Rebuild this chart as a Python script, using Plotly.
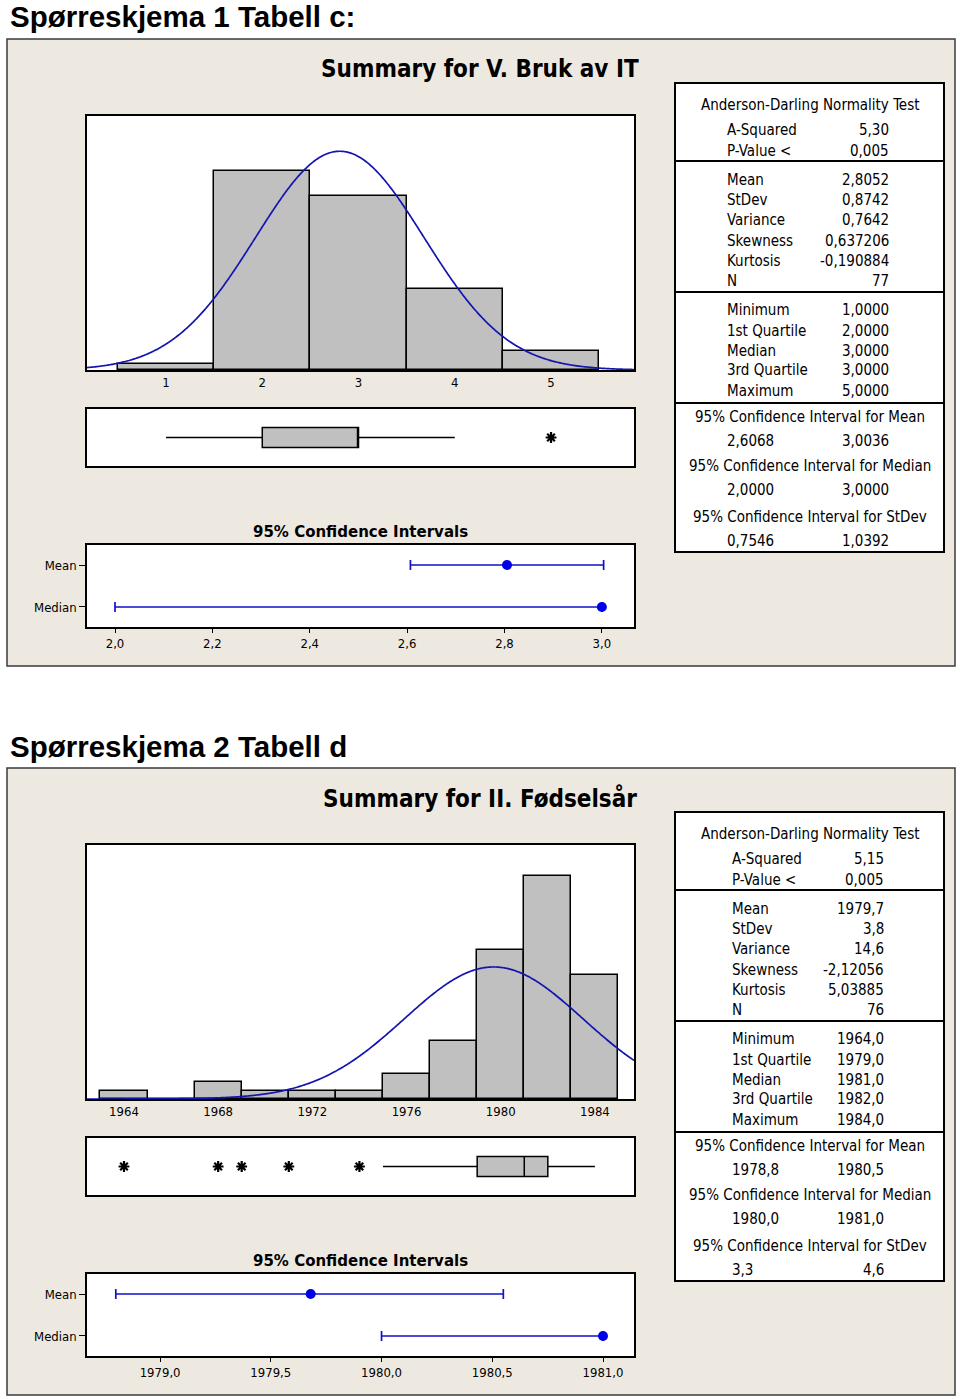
import numpy as np
import plotly.graph_objects as go

W, H = 960, 1399

# ---------------- shared table labels ----------------
ad_title = "Anderson-Darling Normality Test"
ad_labels = ["A-Squared", "P-Value <"]
moment_labels = ["Mean", "StDev", "Variance", "Skewness", "Kurtosis", "N"]
quart_labels = ["Minimum", "1st Quartile", "Median", "3rd Quartile", "Maximum"]
ci_titles = ["95% Confidence Interval for Mean",
             "95% Confidence Interval for Median",
             "95% Confidence Interval for StDev"]
ci_plot_title = "95% Confidence Intervals"
ci_row_labels = ["Mean", "Median"]

# ---------------- chart 1 data ----------------
c1_heading = "Spørreskjema 1 Tabell c:"
c1_summary = "Summary for V. Bruk av IT"
c1_bin_mid = [1, 2, 3, 4, 5]
c1_counts = [1, 32, 28, 13, 3]
c1_bin_width = 1
c1_mean = 2.8052
c1_sd = 0.8742
c1_n = 77
c1_box = [1, 2, 3, 3, 4]          # lower whisker, Q1, median, Q3, upper whisker
c1_outliers = [5]
c1_ci_mean = [2.6068, 2.8052, 3.0036]   # low, estimate, high
c1_ci_median = [2.0, 3.0, 3.0]
c1_hist_ticks = [1, 2, 3, 4, 5]
c1_hist_labels = ["1", "2", "3", "4", "5"]
c1_ci_ticks = [2.0, 2.2, 2.4, 2.6, 2.8, 3.0]
c1_ci_labels = ["2,0", "2,2", "2,4", "2,6", "2,8", "3,0"]
c1_ad_values = ["5,30", "0,005"]
c1_moment_values = ["2,8052", "0,8742", "0,7642", "0,637206", "-0,190884", "77"]
c1_quart_values = ["1,0000", "2,0000", "3,0000", "3,0000", "5,0000"]
c1_ci_values = [["2,6068", "3,0036"], ["2,0000", "3,0000"], ["0,7546", "1,0392"]]

# ---------------- chart 2 data ----------------
c2_heading = "Spørreskjema 2 Tabell d"
c2_summary = "Summary for II. Fødselsår"
c2_bin_mid = [1964, 1966, 1968, 1970, 1972, 1974, 1976, 1978, 1980, 1982, 1984]
c2_counts = [1, 0, 2, 1, 1, 1, 3, 7, 18, 27, 15]
c2_bin_width = 2
c2_mean = 1979.7
c2_sd = 3.8
c2_n = 76
c2_box = [1975, 1979, 1981, 1982, 1984]
c2_outliers = [1964, 1968, 1969, 1971, 1974]
c2_ci_mean = [1978.8, 1979.68, 1980.55]
c2_ci_median = [1980.0, 1981.0, 1981.0]
c2_hist_ticks = [1964, 1968, 1972, 1976, 1980, 1984]
c2_hist_labels = ["1964", "1968", "1972", "1976", "1980", "1984"]
c2_ci_ticks = [1979.0, 1979.5, 1980.0, 1980.5, 1981.0]
c2_ci_labels = ["1979,0", "1979,5", "1980,0", "1980,5", "1981,0"]
c2_ad_values = ["5,15", "0,005"]
c2_moment_values = ["1979,7", "3,8", "14,6", "-2,12056", "5,03885", "76"]
c2_quart_values = ["1964,0", "1979,0", "1981,0", "1982,0", "1984,0"]
c2_ci_values = [["1978,8", "1980,5"], ["1980,0", "1981,0"], ["3,3", "4,6"]]

# ---------------- styling ----------------
PANEL_BG = "#EEE9E0"
BAR_FILL = "#C0C0C0"
CURVE_BLUE = "#1414B0"
CI_BLUE = "#1010C8"
DOT_BLUE = "#0000E6"
SANS = "DejaVu Sans Condensed, DejaVu Sans, sans-serif"
BOLD_TITLE = "Liberation Sans, Arial, sans-serif"
TABLE_SIZE = 15
TICK_SIZE = 13


def px(x):
    return x / W


def py(y):
    return 1 - y / H


fig = go.Figure()
shapes = []
annotations = []
layout_axes = {}


def ann(x, y, text, size, xanchor="center", family=SANS, bold=False):
    annotations.append(dict(
        x=px(x), y=py(y + 1), xref="paper", yref="paper", text=text, showarrow=False,
        xanchor=xanchor, yanchor="middle",
        font=dict(family=family, size=size, color="black",
                  weight="bold" if bold else "normal")))


def rect(x0, y0, x1, y1, fill, line_color=None, lw=0, layer="below"):
    shapes.append(dict(type="rect", xref="paper", yref="paper",
                       x0=px(x0), x1=px(x1), y0=py(y1), y1=py(y0),
                       fillcolor=fill, layer=layer,
                       line=dict(color=line_color or fill, width=lw)))


def hline(x0, x1, y, lw=2):
    shapes.append(dict(type="line", xref="paper", yref="paper",
                       x0=px(x0), x1=px(x1), y0=py(y), y1=py(y),
                       line=dict(color="black", width=lw), layer="above"))


def names(i):
    return ("x" if i == 1 else f"x{i}", "y" if i == 1 else f"y{i}",
            "xaxis" if i == 1 else f"xaxis{i}", "yaxis" if i == 1 else f"yaxis{i}")


def frame_axis(domain, rng, **kw):
    d = dict(domain=domain, range=rng, showline=True, mirror=True, linecolor="black",
             linewidth=1.5, showgrid=False, zeroline=False, fixedrange=True,
             tickfont=dict(family=SANS, size=TICK_SIZE, color="black"))
    d.update(kw)
    return d


def build(dy, base, heading, summary, bin_mid, counts, bw, mean, sd, n, box, outliers,
          ci_mean, ci_median, hist_ticks, hist_labels, ci_ticks, ci_labels,
          ad_values, moment_values, quart_values, ci_values,
          hist_xrange, hist_ymax, ci_xrange, lx, rx):
    # panel + heading
    ann(8, 16 + dy, heading, 29.5, xanchor="left", family=BOLD_TITLE, bold=True)
    rect(7, 39 + dy, 955, 666 + dy, PANEL_BG, "#3A3A3A", 1.5)
    ann(480, 68 + dy, summary, 24, family="DejaVu Sans Condensed, DejaVu Sans", bold=True)

    xd = [px(87), px(634)]
    # white plot areas
    for (t, b) in [(116, 370), (409, 466), (545, 627)]:
        rect(87, t + dy, 634, b + dy, "white")

    # histogram
    xa, ya, xk, yk = names(base)
    layout_axes[xk] = frame_axis(xd, hist_xrange, tickvals=hist_ticks, ticktext=hist_labels,
                                 ticks="", anchor=ya)
    layout_axes[yk] = frame_axis([py(370 + dy), py(116 + dy)], [0, hist_ymax],
                                 showticklabels=False, ticks="", anchor=xa)
    fig.add_trace(go.Bar(x=bin_mid, y=counts, width=bw, xaxis=xa, yaxis=ya,
                         marker=dict(color=BAR_FILL, line=dict(color="black", width=1.5)),
                         hoverinfo="skip"))
    xs = np.linspace(hist_xrange[0], hist_xrange[1], 600)
    ys = n * bw * np.exp(-0.5 * ((xs - mean) / sd) ** 2) / (sd * np.sqrt(2 * np.pi))
    fig.add_trace(go.Scatter(x=xs, y=ys, mode="lines", xaxis=xa, yaxis=ya,
                             line=dict(color=CURVE_BLUE, width=1.7, simplify=False),
                             hoverinfo="skip"))

    # boxplot
    xa, ya, xk, yk = names(base + 1)
    layout_axes[xk] = frame_axis(xd, hist_xrange, showticklabels=False, ticks="", anchor=ya)
    layout_axes[yk] = frame_axis([py(466 + dy), py(409 + dy)], [-1, 1],
                                 showticklabels=False, ticks="", anchor=xa)
    fig.add_trace(go.Box(y=[0], lowerfence=[box[0]], q1=[box[1]], median=[box[2]],
                         q3=[box[3]], upperfence=[box[4]], orientation="h", width=0.7,
                         whiskerwidth=0, fillcolor=BAR_FILL, boxpoints=False,
                         line=dict(color="black", width=1.5), xaxis=xa, yaxis=ya,
                         hoverinfo="skip"))
    fig.add_trace(go.Scatter(x=outliers, y=[0] * len(outliers), mode="markers",
                             xaxis=xa, yaxis=ya, hoverinfo="skip",
                             marker=dict(symbol="asterisk-open", size=9, color="black",
                                         line=dict(color="black", width=2.2))))

    # confidence intervals
    ann(360, 531 + dy, ci_plot_title, 15, family="DejaVu Sans", bold=True)
    xa, ya, xk, yk = names(base + 2)
    layout_axes[xk] = frame_axis(xd, ci_xrange, tickvals=ci_ticks, ticktext=ci_labels,
                                 ticks="outside", ticklen=4, tickwidth=1.2,
                                 tickcolor="black", anchor=ya)
    row_y = [0.756, 0.244]
    layout_axes[yk] = frame_axis([py(627 + dy), py(545 + dy)], [0, 1],
                                 tickvals=row_y, ticktext=ci_row_labels, ticks="outside",
                                 ticklen=6, tickwidth=1.2, tickcolor="black", anchor=xa)
    for ci, yy in zip([ci_mean, ci_median], row_y):
        fig.add_trace(go.Scatter(
            x=[ci[1]], y=[yy], mode="markers", xaxis=xa, yaxis=ya, hoverinfo="skip",
            marker=dict(color=DOT_BLUE, size=10),
            error_x=dict(type="data", symmetric=False, array=[ci[2] - ci[1]],
                         arrayminus=[ci[1] - ci[0]], color=CI_BLUE, thickness=1.7,
                         width=5)))

    # statistics table
    rect(675, 83 + dy, 944, 552 + dy, "white", "black", 2, layer="above")
    for yl in (161, 292, 403):
        hline(675, 944, yl + dy)
    ann(810, 104 + dy, ad_title, TABLE_SIZE)
    rows = list(zip(ad_labels, ad_values, [129, 150])) + \
        list(zip(moment_labels, moment_values, [179, 199, 219, 240, 260, 280])) + \
        list(zip(quart_labels, quart_values, [309, 330, 350, 369, 390]))
    for lab, val, yy in rows:
        ann(lx, yy + dy, lab, TABLE_SIZE, xanchor="left")
        ann(rx, yy + dy, val, TABLE_SIZE, xanchor="right")
    for title, vals, ty in zip(ci_titles, ci_values, [416, 465, 516]):
        ann(810, ty + dy, title, TABLE_SIZE)
        ann(lx, ty + 24 + dy, vals[0], TABLE_SIZE, xanchor="left")
        ann(rx, ty + 24 + dy, vals[1], TABLE_SIZE, xanchor="right")


build(0, 1, c1_heading, c1_summary, c1_bin_mid, c1_counts, c1_bin_width, c1_mean, c1_sd,
      c1_n, c1_box, c1_outliers, c1_ci_mean, c1_ci_median, c1_hist_ticks, c1_hist_labels,
      c1_ci_ticks, c1_ci_labels, c1_ad_values, c1_moment_values, c1_quart_values,
      c1_ci_values, hist_xrange=[0.179, 5.862], hist_ymax=40.8,
      ci_xrange=[1.9425, 3.066], lx=725, rx=891)

build(729, 4, c2_heading, c2_summary, c2_bin_mid, c2_counts, c2_bin_width, c2_mean, c2_sd,
      c2_n, c2_box, c2_outliers, c2_ci_mean, c2_ci_median, c2_hist_ticks, c2_hist_labels,
      c2_ci_ticks, c2_ci_labels, c2_ad_values, c2_moment_values, c2_quart_values,
      c2_ci_values, hist_xrange=[1962.43, 1985.66], hist_ymax=30.7,
      ci_xrange=[1978.67, 1981.14], lx=730, rx=886)

fig.update_layout(
    width=W, height=H, margin=dict(l=0, r=0, t=0, b=0, pad=0),
    paper_bgcolor="white", plot_bgcolor="rgba(0,0,0,0)",
    showlegend=False, bargap=0, shapes=shapes, annotations=annotations,
    font=dict(family=SANS, color="black"),
    **layout_axes)

fig.write_html("out.html", config={"displayModeBar": False},
               post_script="document.body.style.margin='0';document.body.style.overflow='hidden';")
